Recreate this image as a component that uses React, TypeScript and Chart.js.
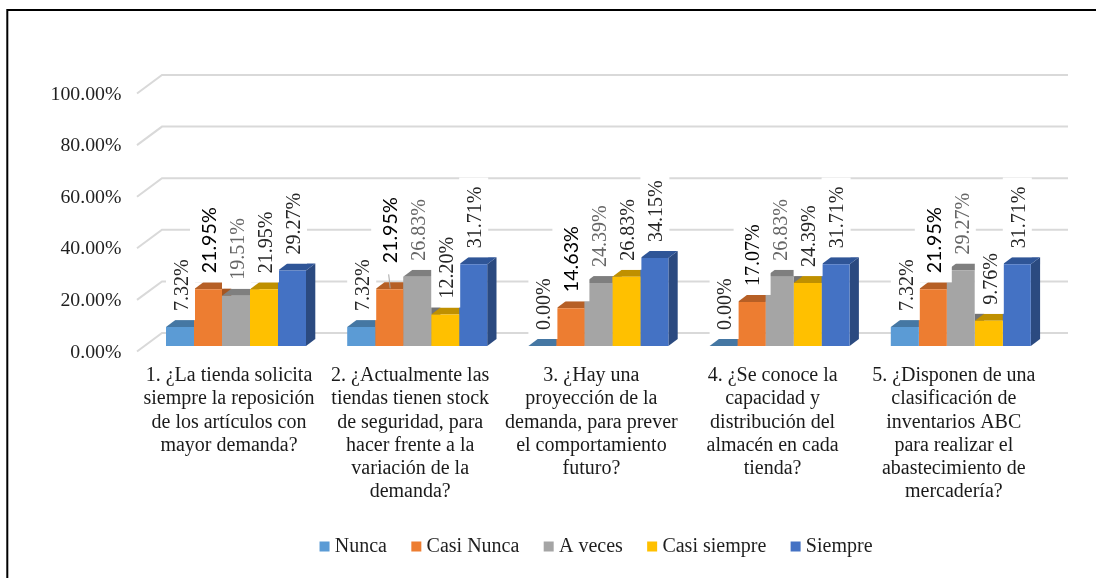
import React, { useEffect, useRef } from "react";
import { Chart, registerables } from "chart.js";

Chart.register(...registerables);

const SERIF = '"Liberation Serif", "Times New Roman", serif';
const SANS = 'Lato, Carlito, sans-serif';

const categories = [
  ["1. ¿La tienda solicita", "siempre la reposición", "de los artículos con", "mayor demanda?"],
  ["2. ¿Actualmente las", "tiendas tienen stock", "de seguridad, para", "hacer frente a la", "variación de la", "demanda?"],
  ["3. ¿Hay una", "proyección de la", "demanda, para prever", "el comportamiento", "futuro?"],
  ["4. ¿Se conoce la", "capacidad y", "distribución del", "almacén en cada", "tienda?"],
  ["5. ¿Disponen de una", "clasificación de", "inventarios ABC", "para realizar el", "abastecimiento de", "mercadería?"],
];

const seriesNames = ["Nunca", "Casi Nunca", "A veces", "Casi siempre", "Siempre"];

const nunca = [7.32, 7.32, 0, 0, 7.32];
const casiNunca = [21.95, 21.95, 14.63, 17.07, 21.95];
const aVeces = [19.51, 26.83, 24.39, 26.83, 29.27];
const casiSiempre = [21.95, 12.2, 26.83, 24.39, 9.76];
const siempre = [29.27, 31.71, 34.15, 31.71, 31.71];
const seriesValues = [nunca, casiNunca, aVeces, casiSiempre, siempre];

const frontColors = ["#5B9BD5", "#ED7D31", "#A5A5A5", "#FFC000", "#4472C4"];
const topColors = ["#4577A3", "#B65F25", "#7F7F7F", "#BF9000", "#2F5597"];
const sideColors = ["#3E6B93", "#A35522", "#737373", "#AD8200", "#2B4A80"];
const labelColors = ["#262626", "#000000", "#666666", "#262626", "#262626"];

// Bars are drawn on a plane between the front and back of the 3D box.
const DEPTH_X = 9.3;
const DEPTH_Y = 7;
const BACK_DX = 16.6;
const BACK_DY = 13;
const FRONT_DX = 8.4;
const FRONT_DY = 5.5;
const GRID_COLOR = "#D9D9D9";

const depthFaces = {
  id: "depthFaces",
  beforeDraw(chart: any) {
    const { ctx, width } = chart;
    ctx.save();
    ctx.fillStyle = "#FFFFFF";
    ctx.fillRect(0, 0, width, chart.height);
    ctx.strokeStyle = "#000000";
    ctx.lineWidth = 2;
    ctx.beginPath();
    ctx.moveTo(7.3, chart.height);
    ctx.lineTo(7.3, 10);
    ctx.lineTo(width, 10);
    ctx.stroke();
    ctx.restore();
  },
  beforeDatasetsDraw(chart: any) {
    const { ctx, chartArea, scales } = chart;
    ctx.save();
    ctx.strokeStyle = GRID_COLOR;
    ctx.lineWidth = 2;
    scales.y.ticks.forEach((t: any) => {
      const y = scales.y.getPixelForValue(t.value);
      ctx.beginPath();
      ctx.moveTo(chartArea.left - FRONT_DX, y + FRONT_DY);
      ctx.lineTo(chartArea.left + BACK_DX, y - BACK_DY);
      ctx.lineTo(chartArea.right + BACK_DX, y - BACK_DY);
      ctx.stroke();
    });
    seriesValues.forEach((_, s) => {
      chart.getDatasetMeta(s).data.forEach((bar: any) => {
        const { x, y, base, width: w } = bar;
        const l = x - w / 2;
        const r = x + w / 2;
        ctx.fillStyle = sideColors[s];
        ctx.beginPath();
        ctx.moveTo(r, y);
        ctx.lineTo(r + DEPTH_X, y - DEPTH_Y);
        ctx.lineTo(r + DEPTH_X, base - DEPTH_Y);
        ctx.lineTo(r, base);
        ctx.closePath();
        ctx.fill();
        ctx.fillStyle = topColors[s];
        ctx.beginPath();
        ctx.moveTo(l, y);
        ctx.lineTo(l + DEPTH_X, y - DEPTH_Y);
        ctx.lineTo(r + DEPTH_X, y - DEPTH_Y);
        ctx.lineTo(r, y);
        ctx.closePath();
        ctx.fill();
      });
    });
    ctx.restore();
  },
};

const rotatedLabels = {
  id: "rotatedLabels",
  afterDatasetsDraw(chart: any) {
    const { ctx } = chart;
    const items: any[] = [];
    seriesValues.forEach((values, s) => {
      chart.getDatasetMeta(s).data.forEach((bar: any, c: number) => {
        const raised = s === 1 && c === 1;
        const sans = s === 1 && c !== 3;
        const wide = s === 1;
        const text = values[c].toFixed(2) + "%";
        const font = sans ? `19.7px ${SANS}` : `20px ${SERIF}`;
        ctx.font = font;
        const len = ctx.measureText(text).width;
        const bottom = bar.y - (raised ? 26 : 16);
        items.push({ bar, s, raised, sans, text, font, len, bottom, half: wide ? 18.5 : 14.5 });
      });
    });
    ctx.save();
    ctx.fillStyle = "#FFFFFF";
    items.forEach((it) => {
      ctx.fillRect(it.bar.x + 0.5 - it.half, it.bottom - it.len - 9, it.half * 2, it.len + 18);
    });
    items
      .filter((it) => it.raised)
      .forEach((it) => {
        ctx.strokeStyle = "#A6A6A6";
        ctx.lineWidth = 1;
        ctx.beginPath();
        ctx.moveTo(it.bar.x + 1, it.bar.y - 1);
        ctx.lineTo(it.bar.x - 0.5, it.bottom + 11);
        ctx.stroke();
      });
    items.forEach((it) => {
      ctx.save();
      ctx.translate(it.bar.x + (it.sans ? 1.5 : 2.5), it.bottom);
      ctx.rotate(-Math.PI / 2);
      ctx.font = it.font;
      ctx.fillStyle = labelColors[it.s];
      ctx.textAlign = "left";
      ctx.textBaseline = "middle";
      ctx.fillText(it.text, 0, 0);
      ctx.restore();
    });
    ctx.restore();
  },
};

export default function App() {
  const ref = useRef<HTMLCanvasElement>(null);

  useEffect(() => {
    const chart = new Chart(ref.current as HTMLCanvasElement, {
      type: "bar",
      data: {
        labels: categories as any,
        datasets: seriesNames.map((name, s) => ({
          label: name,
          data: seriesValues[s],
          backgroundColor: frontColors[s],
          borderWidth: 0,
          categoryPercentage: 0.7726,
          barPercentage: 1,
        })),
      },
      options: {
        responsive: false,
        animation: false,
        layout: {
          autoPadding: false,
          padding: { top: 88, right: 44.6, bottom: 11.5, left: 0 },
        },
        plugins: {
          title: { display: false },
          tooltip: { enabled: false },
          legend: {
            position: "bottom",
            fullSize: false,
            labels: {
              usePointStyle: true,
              pointStyle: "rect",
              boxWidth: 0.5,
              boxHeight: 10,
              padding: 29.1,
              color: "#1F1F1F",
              font: { family: SERIF, size: 20 },
            },
          },
        },
        scales: {
          x: {
            grid: { display: false, drawTicks: false },
            border: { display: false },
            afterFit: (scale: any) => {
              scale.height = 161.4;
            },
            ticks: {
              autoSkip: false,
              maxRotation: 0,
              minRotation: 0,
              padding: 18,
              labelOffset: -7,
              color: "#1A1A1A",
              font: { family: SERIF, size: 20, lineHeight: "23.3px" },
            },
          },
          y: {
            min: 0,
            max: 100,
            grid: { display: false, drawTicks: false },
            border: { display: false },
            afterFit: (scale: any) => {
              scale.width = 145.4;
            },
            ticks: {
              stepSize: 20,
              padding: 24,
              labelOffset: FRONT_DY + 1,
              color: "#1F1F1F",
              font: { family: SERIF, size: 19.8 },
              callback: (v: any) => Number(v).toFixed(2) + "%",
            },
          },
        },
      } as any,
      plugins: [depthFaces, rotatedLabels],
    });
    return () => chart.destroy();
  }, []);

  return (
    <div style={{ position: "absolute", left: 0, top: 0, width: 1096, height: 578 }}>
      <canvas ref={ref} width={1096} height={578} style={{ display: "block" }} />
    </div>
  );
}
